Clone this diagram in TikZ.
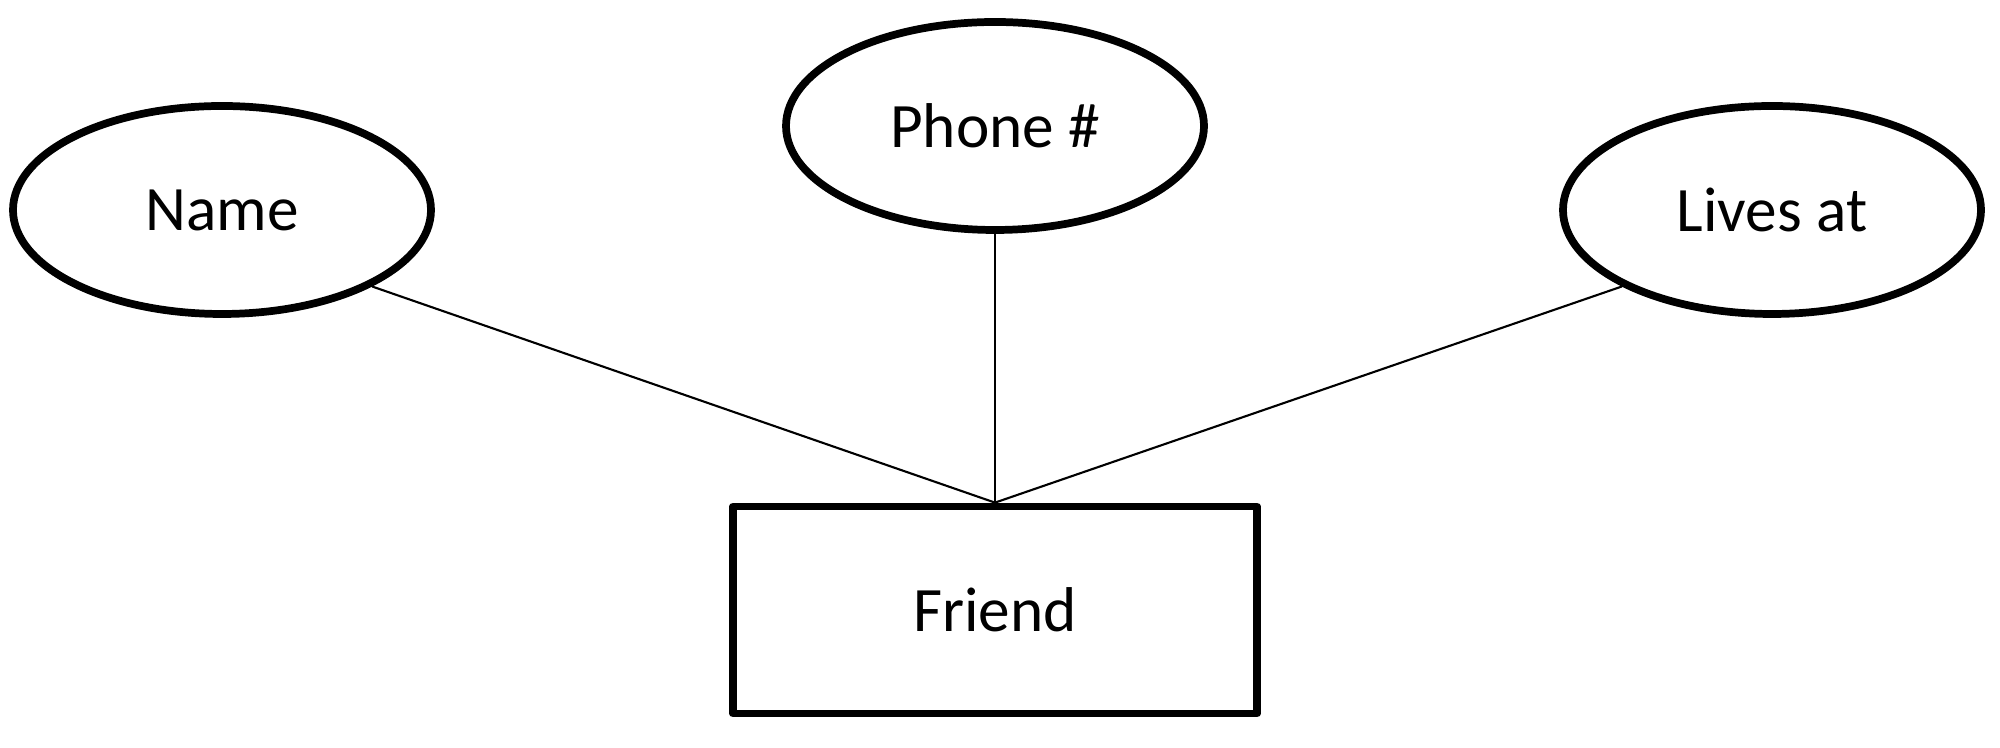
\documentclass[tikz,border=0pt]{standalone}
\usepackage{fontspec}
\setmainfont{Carlito}
\usetikzlibrary{shapes.geometric}
\tikzset{
  ernode/.style = {align=center, inner sep=0pt, text centered,
    font=\fontsize{18}{22}\selectfont},
  er_attr/.style = {ernode, ellipse, draw=black, line width=2.2pt,
    minimum width=4.18cm, minimum height=2.08cm},% attribut
  er_ent/.style = {ernode, rectangle, draw=black, line width=2.2pt,
    line join=round, minimum width=5.24cm, minimum height=2.07cm},% entite
  er_link/.style = {draw=black, line width=0.6pt}% lien
}
\begin{document}
\begin{tikzpicture}
\useasboundingbox (0,0) rectangle (20,7.48);
\node [er_ent] (friend) at (9.95,1.38) {Friend};
\node [er_attr] (name) at (2.22,5.38) {Name};
\node [er_attr] (phone) at (9.95,6.22) {Phone \#};
\node [er_attr] (lives) at (17.72,5.38) {Lives at};
\draw [er_link] (name.-27) -- (friend.north);
\draw [er_link] (phone) -- (friend.north);
\draw [er_link] (lives.207) -- (friend.north);
\end{tikzpicture}
\end{document}
